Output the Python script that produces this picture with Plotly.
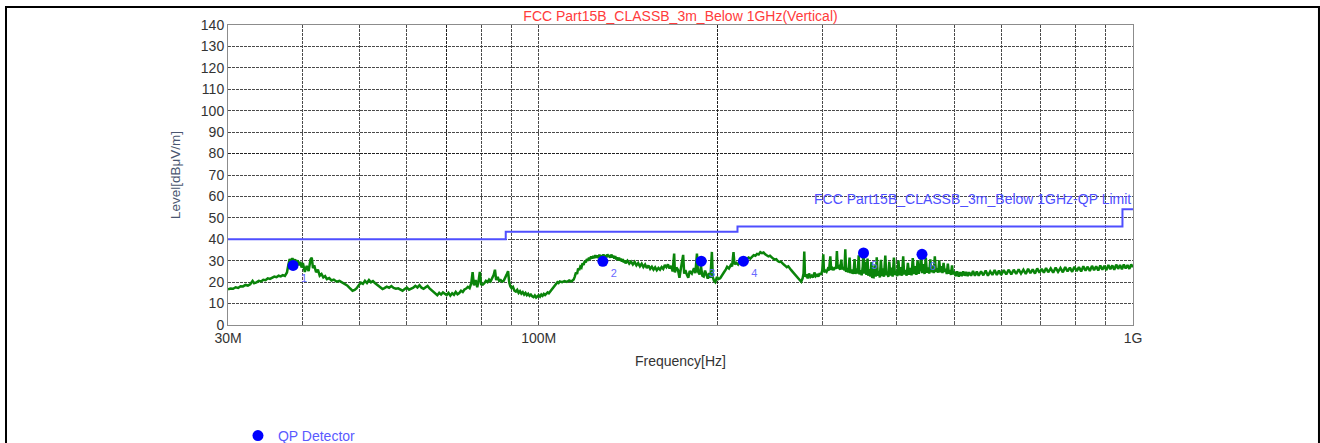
import plotly.graph_objects as go

# ---------------- data ----------------
freq_mhz = [
    30.0, 30.3, 30.6, 30.9, 31.2, 31.5, 31.8, 32.1, 32.4, 32.7,
    33.0, 33.2, 33.5, 33.8, 34.1, 34.4, 34.7, 35.0, 35.3, 35.6,
    35.9, 36.2, 36.5, 36.8, 37.1, 37.4, 37.7, 37.9, 38.1, 38.3,
    38.5, 38.7, 38.9, 39.1, 39.3, 39.5, 39.7, 39.9, 40.1, 40.4,
    40.7, 41.0, 41.3, 41.5, 41.7, 41.9, 42.2, 42.5, 42.8, 43.1,
    43.4, 43.7, 44.0, 44.4, 44.8, 45.2, 45.7, 46.2, 46.7, 47.2,
    47.6, 48.0, 48.3, 48.6, 49.0, 49.4, 49.8, 50.2, 50.6, 51.0,
    51.4, 51.8, 52.2, 52.6, 53.0, 53.4, 53.8, 54.2, 54.6, 55.0,
    55.5, 56.0, 56.5, 57.0, 57.5, 58.0, 58.5, 59.0, 59.5, 60.0,
    60.5, 61.0, 61.5, 62.0, 62.5, 63.0, 63.5, 64.0, 64.5, 65.0,
    65.5, 66.0, 66.5, 67.0, 67.5, 68.0, 68.5, 69.0, 69.5, 70.0,
    70.5, 71.0, 71.5, 72.0, 72.5, 73.0, 73.5, 74.0, 74.5, 75.0,
    75.5, 76.0, 76.5, 77.0, 77.4, 77.8, 78.3, 78.8, 79.2, 79.6,
    80.0, 80.5, 81.0, 81.5, 82.0, 82.5, 83.0, 83.5, 84.0, 84.4,
    84.8, 85.3, 85.8, 86.3, 86.8, 87.3, 87.8, 88.3, 88.8, 89.2,
    89.6, 90.0, 90.5, 91.0, 91.5, 92.0, 92.5, 93.0, 93.5, 94.0,
    94.5, 95.0, 95.5, 96.0, 96.5, 97.0, 97.5, 98.0, 98.5, 99.0,
    99.5, 100.0, 100.5, 101.0, 101.5, 102.0, 102.5, 103.0, 103.5, 104.0,
    104.5, 105.0, 105.5, 106.0, 106.5, 107.0, 107.5, 108.0, 108.5, 109.5,
    110.5, 111.5, 112.5, 113.5, 114.5, 115.0, 115.5, 116.0, 116.5, 117.0,
    117.5, 118.0, 118.5, 119.0, 119.5, 120.0, 120.5, 121.0, 121.5, 122.0,
    122.5, 123.0, 123.5, 124.0, 124.5, 125.0, 125.5, 126.0, 126.5, 127.0,
    127.5, 128.0, 128.5, 129.0, 129.5, 130.0, 130.5, 131.0, 131.5, 132.0,
    132.5, 133.0, 133.5, 134.0, 134.5, 135.0, 135.5, 136.0, 136.5, 137.0,
    137.5, 138.0, 138.5, 139.0, 139.5, 140.0, 141.0, 142.0, 143.0, 144.0,
    145.0, 146.0, 147.0, 148.0, 149.0, 150.0, 151.0, 152.0, 153.0, 154.0,
    155.0, 156.0, 157.0, 158.0, 159.0, 160.0, 161.0, 162.0, 163.0, 164.0,
    165.0, 166.0, 167.0, 168.0, 169.0, 169.5, 170.5, 171.5, 172.5, 173.5,
    175.0, 175.7, 176.5, 177.5, 178.5, 179.5, 181.0, 182.5, 183.5, 184.6,
    185.3, 186.5, 187.5, 188.5, 189.5, 190.5, 191.5, 192.5, 193.5, 194.5,
    195.6, 196.3, 197.2, 198.2, 199.5, 200.5, 202.0, 203.5, 205.0, 206.5,
    207.5, 209.0, 210.5, 211.5, 212.7, 213.5, 215.0, 216.5, 218.0, 219.5,
    221.0, 222.5, 224.0, 225.5, 227.0, 228.5, 230.0, 231.5, 233.0, 234.5,
    236.0, 237.5, 239.0, 240.5, 242.0, 243.5, 245.0, 246.5, 248.0, 249.5,
    251.0, 252.5, 254.0, 255.5, 257.0, 258.5, 260.0, 261.5, 263.0, 264.5,
    266.0, 267.5, 269.0, 270.5, 272.0, 273.5, 275.0, 276.5, 278.0, 279.0,
    279.8, 280.6, 282.0, 283.5, 285.0, 286.5, 288.0, 289.5, 291.0, 292.5,
    294.0, 295.5, 297.0, 298.5, 300.0, 301.2, 302.0, 303.5, 305.0, 306.5,
    308.0, 309.5, 310.5, 312.0, 313.5, 315.0, 316.5, 317.5, 318.5, 320.0,
    321.5, 323.0, 324.0, 325.5, 327.0, 328.0, 329.0, 330.5, 332.0, 333.5,
    334.5, 336.0, 337.5, 338.8, 340.0, 341.0, 342.5, 344.0, 345.5, 346.5,
    348.0, 349.5, 351.0, 352.0, 353.0, 354.5, 356.0, 357.5, 358.5, 360.0,
    361.5, 363.0, 364.0, 366.0, 367.5, 369.0, 370.5, 372.0, 373.5, 375.0,
    376.5, 378.0, 379.5, 381.0, 383.0, 384.5, 386.0, 387.5, 389.0, 390.5,
    392.0, 394.0, 396.0, 397.5, 399.0, 401.0, 403.0, 404.5, 406.5, 408.5,
    410.5, 412.0, 414.0, 416.0, 418.0, 420.0, 422.0, 424.0, 426.0, 428.0,
    430.0, 432.0, 434.0, 436.0, 438.0, 440.0, 442.0, 444.0, 446.0, 448.0,
    450.0, 452.0, 454.0, 456.0, 458.0, 460.0, 462.0, 464.0, 466.0, 468.0,
    470.0, 472.0, 474.0, 476.0, 478.0, 480.0, 482.0, 484.0, 486.0, 488.0,
    490.0, 492.0, 494.0, 496.0, 498.0, 500.0, 503.0, 506.0, 509.0, 512.0,
    515.0, 518.0, 521.0, 524.0, 527.0, 530.0, 534.0, 538.0, 542.0, 546.0,
    550.0, 555.0, 560.0, 565.0, 570.0, 575.0, 580.0, 585.0, 590.0, 595.0,
    600.0, 606.0, 612.0, 618.0, 624.0, 630.0, 636.0, 642.0, 648.0, 654.0,
    660.0, 666.0, 672.0, 678.0, 684.0, 690.0, 696.0, 702.0, 708.0, 714.0,
    720.0, 727.0, 734.0, 741.0, 748.0, 755.0, 762.0, 769.0, 776.0, 783.0,
    790.0, 797.0, 804.0, 811.0, 818.0, 825.0, 832.0, 839.0, 846.0, 853.0,
    860.0, 867.0, 874.0, 881.0, 888.0, 895.0, 902.0, 909.0, 916.0, 923.0,
    930.0, 937.0, 944.0, 951.0, 958.0, 965.0, 972.0, 979.0, 986.0, 993.0,
    1000.0,
]

level_dbuv = [
    16.6, 17.0, 16.9, 17.6, 17.3, 18.1, 18.0, 18.7, 18.4, 19.0,
    20.6, 19.5, 19.9, 20.6, 20.3, 21.1, 20.9, 21.8, 21.5, 22.2,
    22.6, 22.3, 23.0, 22.7, 23.3, 22.9, 24.5, 28.0, 30.8, 29.6,
    31.2, 29.4, 30.6, 28.6, 30.2, 27.8, 29.5, 26.8, 28.9, 24.8,
    27.6, 25.2, 30.6, 31.4, 26.5, 27.8, 24.6, 25.8, 23.0, 23.8,
    22.2, 22.8, 21.4, 21.9, 20.8, 21.2, 20.2, 20.6, 19.8, 19.2,
    18.5, 17.4, 16.5, 16.0, 16.4, 17.2, 18.6, 19.8, 19.2, 20.6,
    19.6, 21.0, 19.9, 20.5, 19.6, 19.0, 18.2, 17.4, 16.8, 17.2,
    17.9, 17.4, 18.2, 17.3, 16.9, 17.1, 16.4, 16.0, 16.8, 17.5,
    16.5, 17.0, 17.4, 18.3, 17.5, 18.6, 17.4, 16.9, 17.6, 18.2,
    17.1, 16.2, 15.2, 14.4, 13.9, 15.0, 14.2, 15.2, 14.6, 14.0,
    15.0, 13.7, 14.8, 14.1, 15.4, 14.3, 14.9, 16.0, 15.4, 16.6,
    17.0, 17.8, 17.2, 19.5, 24.7, 18.5, 21.0, 17.6, 20.5, 24.8,
    19.0, 18.8, 19.5, 20.6, 20.0, 21.2, 20.4, 22.0, 23.4, 25.8,
    21.0, 22.4, 20.6, 21.0, 20.2, 20.6, 21.8, 23.5, 25.1, 19.8,
    18.0, 17.2, 17.8, 16.0, 15.6, 16.4, 15.0, 15.8, 14.6, 15.3,
    14.2, 15.0, 13.9, 14.6, 13.6, 14.2, 13.4, 13.0, 13.8, 12.8,
    13.4, 13.9, 13.2, 14.2, 13.6, 14.5, 14.0, 14.9, 15.2, 14.8,
    15.6, 16.6, 17.3, 18.2, 18.8, 19.4, 20.0, 19.6, 20.3, 20.0,
    20.5, 20.1, 20.8, 20.3, 21.2, 22.6, 24.5, 23.8, 26.4, 25.6,
    27.3, 26.8, 28.8, 28.0, 29.8, 29.2, 30.8, 30.0, 31.4, 30.6,
    32.0, 31.0, 32.2, 31.2, 32.6, 31.4, 32.4, 31.2, 32.8, 31.6,
    32.5, 31.4, 32.9, 31.6, 32.6, 31.5, 33.0, 31.8, 32.6, 31.4,
    32.9, 31.6, 32.4, 31.0, 32.2, 30.6, 31.6, 30.2, 31.4, 30.0,
    31.0, 29.6, 30.8, 29.2, 30.2, 28.8, 30.0, 28.6, 29.6, 28.2,
    29.4, 27.8, 28.9, 27.4, 28.6, 27.0, 28.2, 26.6, 27.8, 26.2,
    27.2, 25.8, 26.9, 25.6, 26.6, 25.8, 27.0, 26.2, 28.0, 27.0,
    28.3, 26.4, 27.6, 25.0, 33.3, 24.5, 26.8, 25.8, 22.0, 26.5,
    32.7, 24.0, 25.6, 23.5, 22.0, 25.2, 24.0, 26.5, 24.2, 33.3,
    25.0, 23.6, 27.4, 23.0, 22.6, 25.4, 22.8, 21.6, 24.2, 22.0,
    34.1, 22.4, 20.6, 20.0, 22.5, 21.4, 21.8, 23.5, 24.6, 26.0,
    27.2, 26.4, 28.0, 27.4, 34.0, 28.4, 29.0, 28.2, 29.8, 29.2,
    30.4, 30.0, 31.0, 31.5, 31.0, 32.0, 32.6, 32.3, 33.2, 32.9,
    34.0, 33.5, 33.8, 33.0, 32.6, 32.0, 32.3, 31.4, 31.0, 30.5,
    30.7, 29.8, 29.4, 29.6, 28.6, 28.2, 27.6, 27.0, 27.4, 26.2,
    25.6, 24.8, 24.0, 23.2, 22.4, 21.6, 20.8, 20.2, 21.8, 24.0,
    34.3, 22.5, 23.6, 21.8, 24.0, 22.4, 23.0, 22.2, 24.5, 22.8,
    23.4, 22.6, 24.2, 23.4, 25.5, 33.0, 24.6, 25.4, 24.8, 26.2,
    25.5, 32.0, 25.8, 26.5, 25.6, 27.0, 26.2, 34.5, 26.5, 27.2,
    25.8, 30.5, 26.0, 27.0, 25.5, 35.3, 24.8, 26.5, 24.6, 31.5,
    24.2, 25.8, 24.0, 24.7, 30.8, 23.8, 26.4, 24.0, 32.5, 23.6,
    25.6, 23.2, 27.5, 35.5, 24.0, 29.5, 23.4, 31.0, 23.0, 26.0,
    22.6, 29.4, 22.4, 22.3, 27.8, 22.6, 31.6, 23.0, 25.2, 22.2,
    30.4, 22.8, 26.4, 22.5, 32.4, 23.2, 24.8, 22.4, 29.6, 23.0,
    26.8, 22.6, 31.5, 23.4, 25.2, 22.8, 30.2, 23.2, 27.0, 23.0,
    32.0, 23.6, 25.6, 23.0, 29.0, 23.4, 26.6, 23.2, 31.2, 23.8,
    27.4, 23.4, 30.0, 24.0, 26.0, 32.6, 24.2, 28.4, 23.8, 31.4,
    24.4, 26.8, 24.0, 30.6, 24.6, 27.8, 24.2, 32.0, 24.8, 26.4,
    24.4, 30.2, 24.6, 27.4, 24.2, 29.0, 24.8, 26.2, 23.8, 28.6,
    24.0, 25.6, 23.4, 27.8, 23.6, 25.0, 22.8, 25.0, 22.6, 24.6,
    22.8, 25.0, 23.0, 24.8, 22.8, 24.6, 23.0, 25.2, 23.0, 25.0,
    23.0, 25.0, 23.2, 25.4, 23.0, 25.0, 23.4, 25.6, 23.4, 25.4,
    23.4, 25.6, 23.6, 25.8, 23.6, 25.8, 23.8, 26.0, 24.0, 25.8,
    23.8, 26.2, 24.2, 26.0, 24.0, 26.4, 24.4, 26.2, 24.4, 26.6,
    24.6, 26.4, 24.4, 26.8, 24.8, 26.6, 24.6, 27.0, 25.0, 26.8,
    24.8, 27.2, 25.2, 27.0, 25.0, 27.4, 25.4, 27.2, 25.2, 27.6,
    25.6, 27.4, 25.4, 27.8, 25.8, 27.6, 25.6, 28.0, 26.0, 27.8,
    25.8, 28.2, 26.2, 28.0, 26.0, 28.2, 26.4, 28.0, 26.2, 28.2,
    27.0,
]

limit_freq_mhz = [30, 88, 216, 960, 1000]
limit_level = [40, 43.5, 46, 54, 54]

qp_freq_mhz = [38.6, 128.2, 187.7, 221.0, 352.0, 441.5]
qp_level = [27.8, 29.7, 29.8, 29.8, 33.6, 33.0]
qp_labels = ["1", "2", "3", "4", "5", "6"]

x_tickvals = [30, 40, 50, 60, 70, 80, 90, 100, 200, 300, 400, 500, 600, 700, 800, 900, 1000]
x_ticktext = ["30M", "", "", "", "", "", "", "100M", "", "", "", "", "", "", "", "", "1G"]
y_tickvals = list(range(0, 141, 10))
bold_x_grid = [70, 200]
bold_y_grid = [80]

FONT = "Liberation Sans, Arial, sans-serif"
X_RANGE = [1.4771213, 3.0]

fig = go.Figure()

fig.add_trace(go.Scatter(
    x=freq_mhz, y=level_dbuv, mode="lines",
    line=dict(color="#0a840a", width=2.5),
    showlegend=False, hoverinfo="skip",
))

fig.add_trace(go.Scatter(
    x=limit_freq_mhz, y=limit_level, mode="lines", line_shape="hv",
    line=dict(color="#4f4fff", width=2),
    showlegend=False,
))

fig.add_trace(go.Scatter(
    x=qp_freq_mhz, y=qp_level, mode="markers+text",
    xaxis="x2", yaxis="y2",
    marker=dict(color="#0000ff", size=11),
    text=qp_labels, textposition="bottom right",
    textfont=dict(color="#6a6aff", size=11, family=FONT),
    name="QP Detector", showlegend=True,
))

fig.add_annotation(
    text="FCC Part15B_CLASSB_3m_Below 1GHz-QP Limit",
    xref="paper", x=1.0, xanchor="right",
    yref="y", y=59, yanchor="middle",
    showarrow=False, font=dict(color="#4f4fff", size=14, family=FONT),
)

# outer black frame
fig.add_shape(type="rect", xref="paper", yref="paper",
              x0=-0.2453, x1=1.2055, y0=-0.6, y1=1.060,
              line=dict(color="black", width=2), fillcolor="rgba(0,0,0,0)", layer="above")

fig.update_layout(
    width=1320, height=443,
    margin=dict(l=228, r=187, t=25, b=118, autoexpand=False),
    paper_bgcolor="white", plot_bgcolor="white",
    font=dict(family=FONT, size=14, color="#333333"),
    title=dict(text="FCC Part15B_CLASSB_3m_Below 1GHz(Vertical)",
               x=0.5, xref="paper", xanchor="center",
               y=1 - 16 / 443, yref="container", yanchor="middle",
               font=dict(color="#ff3b3b", size=14, family=FONT)),
    legend=dict(x=0.011, y=-0.37, xref="paper", yref="paper",
                xanchor="left", yanchor="middle",
                font=dict(color="#5a5aff", size=14, family=FONT),
                bgcolor="rgba(0,0,0,0)"),
    xaxis=dict(
        type="log", range=X_RANGE,
        tickvals=x_tickvals, ticktext=x_ticktext,
        showgrid=True, gridcolor="#4a4a4a", gridwidth=1, griddash="3px,1px",
        showline=True, linecolor="#8c8c8c", linewidth=1, mirror=True,
        ticks="inside", ticklen=4, tickcolor="#555555",
        tickfont=dict(size=14, color="#333333"),
        title=dict(text="Frequency[Hz]", font=dict(size=14, color="#333333"), standoff=11),
        zeroline=False,
    ),
    yaxis=dict(
        range=[0, 140], tickvals=y_tickvals,
        showgrid=True, gridcolor="#4a4a4a", gridwidth=1, griddash="3px,1px",
        showline=True, linecolor="#8c8c8c", linewidth=1, mirror=True,
        ticks="", tickfont=dict(size=14, color="#333333"),
        title=dict(text="Level[dBμV/m]", font=dict(size=13.5, color="#4a5670"), standoff=17),
        zeroline=False,
    ),
    xaxis2=dict(
        type="log", range=X_RANGE, overlaying="x", side="bottom",
        tickvals=bold_x_grid, showticklabels=False, ticks="",
        showgrid=True, gridcolor="#222222", gridwidth=1.2, griddash="3px,1px",
        showline=False, zeroline=False,
    ),
    yaxis2=dict(
        range=[0, 140], overlaying="y", side="left",
        tickvals=bold_y_grid, showticklabels=False, ticks="",
        showgrid=True, gridcolor="#222222", gridwidth=1.2, griddash="3px,1px",
        showline=False, zeroline=False,
    ),
)

fig.write_html("out.html", config={"displayModeBar": False},
               post_script="document.body.style.margin='0px';")
